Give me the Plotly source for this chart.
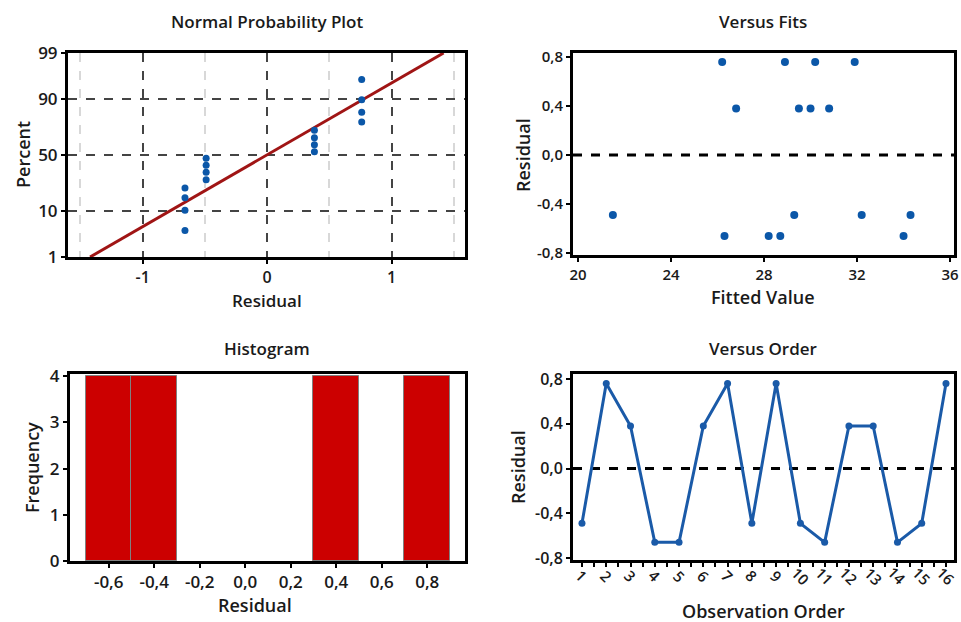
import plotly.graph_objects as go
from statistics import NormalDist, mean, stdev

# ---- data ----
order = list(range(1, 17))
residuals = [-0.49, 0.76, 0.38, -0.66, -0.66, 0.38, 0.76, -0.49,
             0.76, -0.49, -0.66, 0.38, 0.38, -0.66, -0.49, 0.76]
fitted = [21.5, 26.2, 26.8, 26.3, 28.2, 29.5, 28.9, 29.3,
          30.2, 32.2, 28.7, 30.0, 30.8, 34.0, 34.3, 31.9]
pct_ticks = [1, 10, 50, 90, 99]
resid_ticks = [-0.8, -0.4, 0.0, 0.4, 0.8]
resid_ticktext = ["-0,8", "-0,4", "0,0", "0,4", "0,8"]
hist_ticks = [-0.6, -0.4, -0.2, 0.0, 0.2, 0.4, 0.6, 0.8]
hist_ticktext = ["-0,6", "-0,4", "-0,2", "0,0", "0,2", "0,4", "0,6", "0,8"]
fit_ticks = [20, 24, 28, 32, 36]
freq_ticks = [0, 1, 2, 3, 4]

nd = NormalDist()
n = len(residuals)
sorted_res = sorted(residuals)
probs = [(i - 0.3) / (n + 0.4) for i in range(1, n + 1)]
zs = [nd.inv_cdf(p) for p in probs]
mu, sd = mean(residuals), stdev(residuals)
zlo, zhi = nd.inv_cdf(0.01), nd.inv_cdf(0.99)

BLUE = "#0b57a8"
FONT = "Open Sans"
TXT = "#1a1a1a"

fig = go.Figure()
fig.add_trace(go.Scatter(x=[mu + sd * zlo, mu + sd * zhi], y=[zlo, zhi], mode="lines",
                         line=dict(color="#a01515", width=3), xaxis="x", yaxis="y"))
fig.add_trace(go.Scatter(x=sorted_res, y=zs, mode="markers",
                         marker=dict(color=BLUE, size=7), xaxis="x", yaxis="y"))
fig.add_trace(go.Scatter(x=fitted, y=residuals, mode="markers",
                         marker=dict(color=BLUE, size=8), xaxis="x2", yaxis="y2"))
fig.add_trace(go.Histogram(x=residuals, xbins=dict(start=-0.7, end=0.9, size=0.2),
                           marker=dict(color="#cc0000", line=dict(color="#808080", width=1)),
                           xaxis="x3", yaxis="y3"))
fig.add_trace(go.Scatter(x=order, y=residuals, mode="lines+markers",
                         line=dict(color="#1a5aa8", width=3),
                         marker=dict(color="#1a5aa8", size=7), xaxis="x4", yaxis="y4"))

def tf(size):
    return dict(family=FONT, size=size, color=TXT, weight=600)

frame = dict(showline=True, linecolor="black", linewidth=3, mirror=True,
             zeroline=False, ticks="outside", ticklen=4, tickwidth=2, tickcolor="black",
             automargin=False)

xd1 = [68 / 961, 465 / 961]
xd2 = [573 / 961, 954 / 961]

fig.update_layout(
    width=961, height=622, showlegend=False,
    margin=dict(l=0, r=0, t=0, b=0, pad=0),
    paper_bgcolor="white", plot_bgcolor="white",
    bargap=0,
    xaxis=dict(domain=xd1, anchor="y", range=[-1.6, 1.59], tickvals=[-1, 0, 1],
               ticktext=["-1", "0", "1"], showgrid=True, gridcolor="#444444", griddash="dash",
               gridwidth=2, tickfont=tf(16),
               minor=dict(tickvals=[-1.5, -0.5, 0.5, 1.5], showgrid=True, ticks="",
                          gridcolor="#d8d8d8", griddash="dash", gridwidth=1.5),
               **frame),
    yaxis=dict(domain=[1 - 257 / 622, 1 - 53 / 622], anchor="x", range=[zlo, zhi],
               tickvals=[nd.inv_cdf(p / 100) for p in pct_ticks],
               ticktext=[str(p) for p in pct_ticks], showgrid=True, gridcolor="#444444",
               griddash="dash", gridwidth=2, tickfont=tf(17), **frame),
    xaxis2=dict(domain=xd2, anchor="y2", range=[19.785, 36.17], tickvals=fit_ticks,
                showgrid=False, tickfont=tf(15), **frame),
    yaxis2=dict(domain=[1 - 255 / 622, 1 - 53 / 622], anchor="x2", range=[-0.816, 0.833],
                tickvals=resid_ticks, ticktext=resid_ticktext, showgrid=False,
                tickfont=tf(15), **frame),
    xaxis3=dict(domain=[70 / 961, 465 / 961], anchor="y3", range=[-0.77, 0.966],
                tickvals=hist_ticks, ticktext=hist_ticktext, showgrid=False,
                tickfont=tf(17), **frame),
    yaxis3=dict(domain=[1 - 561 / 622, 1 - 374 / 622], anchor="x3", range=[0, 4.05],
                tickvals=freq_ticks, showgrid=False, tickfont=tf(17), **frame),
    xaxis4=dict(domain=xd2, anchor="y4", range=[0.63, 16.33], tickvals=order,
                showticklabels=False, showgrid=False,
                minor=dict(dtick=0.5, tick0=0.5, ticks="outside", ticklen=4,
                           tickwidth=2, tickcolor="black"),
                **frame),
    yaxis4=dict(domain=[1 - 560 / 622, 1 - 374 / 622], anchor="x4", range=[-0.818, 0.845],
                tickvals=resid_ticks, ticktext=resid_ticktext, showgrid=False,
                tickfont=tf(16), **frame),
)

fig.add_shape(type="line", xref="x2 domain", yref="y2", x0=0, x1=1, y0=0, y1=0,
              line=dict(color="black", width=3, dash="dash"), layer="below")
fig.add_shape(type="line", xref="x4 domain", yref="y4", x0=0, x1=1, y0=0, y1=0,
              line=dict(color="black", width=3, dash="dash"), layer="below")

# rotated tick labels for the observation order axis, centred under each tick
for o in order:
    fig.add_annotation(text=str(o), x=o, xref="x4", y=1 - 576 / 622, yref="paper",
                       showarrow=False, textangle=45, xanchor="center", yanchor="middle",
                       font=tf(15))

def ann(text, x, y, size=18, angle=0):
    fig.add_annotation(text=text, x=x / 961, y=1 - y / 622, xref="paper", yref="paper",
                       showarrow=False, textangle=angle, xanchor="center", yanchor="middle",
                       font=tf(size))

ann("Normal Probability Plot", 267, 22, 17)
ann("Versus Fits", 763, 22, 17)
ann("Histogram", 267, 348, 17)
ann("Versus Order", 763, 348, 17)
ann("Residual", 267, 300, 17)
ann("Percent", 23, 155, angle=-90)
ann("Fitted Value", 763, 297)
ann("Residual", 523, 155, angle=-90)
ann("Residual", 255, 605)
ann("Frequency", 32, 468, angle=-90)
ann("Observation Order", 763, 611)
ann("Residual", 518, 467, angle=-90)

fig.write_html("out.html", config={"displayModeBar": False},
               post_script="document.body.style.margin='0';document.body.style.overflow='hidden';")
